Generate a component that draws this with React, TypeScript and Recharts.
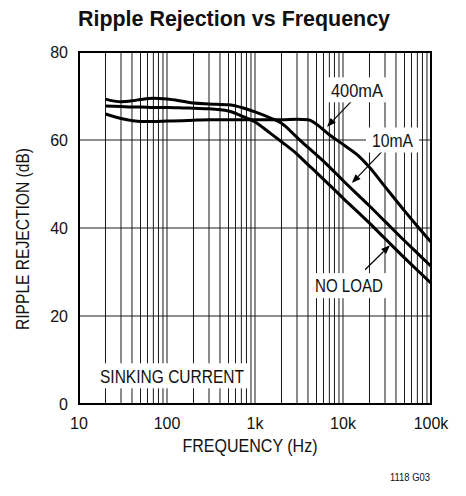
import React from 'react'
import {
  LineChart,
  Line,
  XAxis,
  YAxis,
  CartesianGrid,
  ReferenceLine,
  ReferenceDot,
  ReferenceArea,
} from 'recharts'

// frequency points (Hz)
const FREQ = [20, 30, 40, 50, 70, 100, 150, 200, 300, 500, 700, 1000, 1500, 2000, 3000, 4000, 5000, 7000, 10000, 15000, 20000, 30000, 50000, 70000, 100000]

// ripple rejection (dB) for each load
const MA_10 = [69.3, 68.7, 68.9, 69.2, 69.5, 69.3, 68.8, 68.4, 68.2, 68.0, 67.4, 66.4, 65.0, 63.8, 60.6, 58.3, 56.6, 53.9, 50.8, 47.4, 45.0, 41.5, 37.1, 34.3, 31.3]
const NO_LOAD = [67.7, 67.6, 67.5, 67.5, 67.4, 67.4, 67.3, 67.2, 67.1, 66.6, 65.5, 64.1, 61.5, 59.6, 56.8, 54.4, 52.6, 49.8, 46.8, 43.5, 41.1, 37.6, 33.2, 30.4, 27.5]
const MA_400 = [65.9, 64.9, 64.4, 64.2, 64.2, 64.3, 64.4, 64.5, 64.6, 64.6, 64.6, 64.6, 64.6, 64.6, 64.7, 64.6, 63.6, 61.2, 59.0, 56.4, 53.8, 49.4, 43.9, 40.4, 36.8]

// log grid lines and labels
const GRID_TICKS = [
  10, 20, 30, 40, 50, 60, 70, 80, 90,
  100, 200, 300, 400, 500, 600, 700, 800, 900,
  1000, 2000, 3000, 4000, 5000, 6000, 7000, 8000, 9000,
  10000, 20000, 30000, 40000, 50000, 60000, 70000, 80000, 90000,
  100000,
]
const X_LABELS: Record<number, string> = { 10: '10', 100: '100', 1000: '1k', 10000: '10k', 100000: '100k' }
const Y_TICKS = [0, 20, 40, 60, 80]

// in-plot notes: text and where it sits (freq, dB)
const NOTES = [
  { text: '400mA', f: 14400, v: 71.4 },
  { text: '10mA', f: 36500, v: 60 },
  { text: 'NO LOAD', f: 11700, v: 26.9 },
  { text: 'SINKING CURRENT', f: 114, v: 6.4 },
]

// arrows from note to curve: [freq, dB] tail -> head
const ARROWS = [
  { from: [12600, 68.9], to: [6580, 63.0] },
  { from: [27500, 57.3], to: [12600, 50.2] },
  { from: [17800, 30.5], to: [34200, 36.1] },
]

const data = FREQ.map((f, i) => ({ f, ma10: MA_10[i], noLoad: NO_LOAD[i], ma400: MA_400[i] }))

// condensed look: regular sans squeezed to the measured widths
const FONT = "'Liberation Sans', Arial, sans-serif"
const NOTE_WIDTH: Record<string, number> = { '400mA': 52, '10mA': 41, 'NO LOAD': 68, 'SINKING CURRENT': 144 }
const NOTE_BOX: Record<string, number> = { '400mA': 58, '10mA': 53, 'NO LOAD': 76, 'SINKING CURRENT': 152 }

const Arrow = (p: any) => {
  const { x1, y1, x2, y2 } = p
  const dx = x2 - x1
  const dy = y2 - y1
  const len = Math.sqrt(dx * dx + dy * dy) || 1
  const ux = dx / len
  const uy = dy / len
  const hl = 9
  const hw = 3.5
  const bx = x2 - ux * hl
  const by = y2 - uy * hl
  return (
    <g>
      <line x1={x1} y1={y1} x2={bx} y2={by} stroke="#000" strokeWidth={1.2} />
      <polygon
        points={`${x2},${y2} ${bx - uy * hw},${by + ux * hw} ${bx + uy * hw},${by - ux * hw}`}
        fill="#000"
      />
    </g>
  )
}

const noteShape = (text: string) => (p: any) => {
  const w = NOTE_BOX[text]
  const h = 25
  return (
    <g>
      <rect x={p.cx - w / 2} y={p.cy - h / 2} width={w} height={h} fill="#fff" />
      <text
        x={p.cx}
        y={p.cy + 6.8}
        textAnchor="middle"
        fontFamily={FONT}
        fontSize={19}
        textLength={NOTE_WIDTH[text]}
        lengthAdjust="spacingAndGlyphs"
        fill="#111"
      >
        {text}
      </text>
    </g>
  )
}

export default function App() {
  return (
    <div style={{ position: 'absolute', left: 0, top: 0, width: 466, height: 496, background: '#fff' }}>
      <LineChart width={466} height={496} data={data} margin={{ top: 52, right: 35, bottom: 0, left: 0 }}>
        <CartesianGrid stroke="#1a1a1a" strokeWidth={1} />
        <XAxis
          dataKey="f"
          type="number"
          scale="log"
          domain={[10, 100000]}
          ticks={GRID_TICKS}
          interval={0}
          allowDataOverflow
          tickFormatter={(v: number) => X_LABELS[v] ?? ''}
          tickLine={false}
          axisLine={false}
          tickSize={0}
          tickMargin={14}
          height={92}
          tick={{ fontFamily: FONT, fontSize: 16, fill: '#111' }}
        />
        <YAxis
          type="number"
          domain={[0, 80]}
          ticks={Y_TICKS}
          interval={0}
          tickLine={false}
          axisLine={false}
          tickSize={0}
          tickMargin={11}
          width={79}
          tick={{ fontFamily: FONT, fontSize: 16, fill: '#111' }}
        />
        <ReferenceArea x1={10} x2={100000} y1={0} y2={80} fill="none" stroke="#000" strokeWidth={2} ifOverflow="visible" />
        {NOTES.map((n) => (
          <ReferenceDot key={n.text} x={n.f} y={n.v} r={1} shape={noteShape(n.text)} ifOverflow="visible" />
        ))}
        <Line type="monotone" dataKey="ma10" stroke="#000" strokeWidth={3} dot={false} isAnimationActive={false} />
        <Line type="monotone" dataKey="noLoad" stroke="#000" strokeWidth={3} dot={false} isAnimationActive={false} />
        <Line type="monotone" dataKey="ma400" stroke="#000" strokeWidth={3} dot={false} isAnimationActive={false} />
        {ARROWS.map((a, i) => (
          <ReferenceLine
            key={i}
            segment={[{ x: a.from[0], y: a.from[1] }, { x: a.to[0], y: a.to[1] }]}
            shape={Arrow}
            ifOverflow="visible"
          />
        ))}
      </LineChart>
      <svg width={466} height={496} style={{ position: 'absolute', left: 0, top: 0, pointerEvents: 'none' }}>
        <text
          x={234}
          y={25.5}
          textAnchor="middle"
          fontFamily={FONT}
          fontWeight="bold"
          fontSize={22.5}
          textLength={312}
          lengthAdjust="spacingAndGlyphs"
          fill="#111"
        >
          Ripple Rejection vs Frequency
        </text>
        <text
          x={29}
          y={239}
          textAnchor="middle"
          transform="rotate(-90 29 239)"
          fontFamily={FONT}
          fontSize={18.5}
          textLength={182}
          lengthAdjust="spacingAndGlyphs"
          fill="#111"
        >
          RIPPLE REJECTION (dB)
        </text>
        <text
          x={250}
          y={452}
          textAnchor="middle"
          fontFamily={FONT}
          fontSize={18.5}
          textLength={135}
          lengthAdjust="spacingAndGlyphs"
          fill="#111"
        >
          FREQUENCY (Hz)
        </text>
        <text
          x={430}
          y={481}
          textAnchor="end"
          fontFamily={FONT}
          fontSize={11}
          textLength={40}
          lengthAdjust="spacingAndGlyphs"
          fill="#111"
        >
          1118 G03
        </text>
      </svg>
    </div>
  )
}
